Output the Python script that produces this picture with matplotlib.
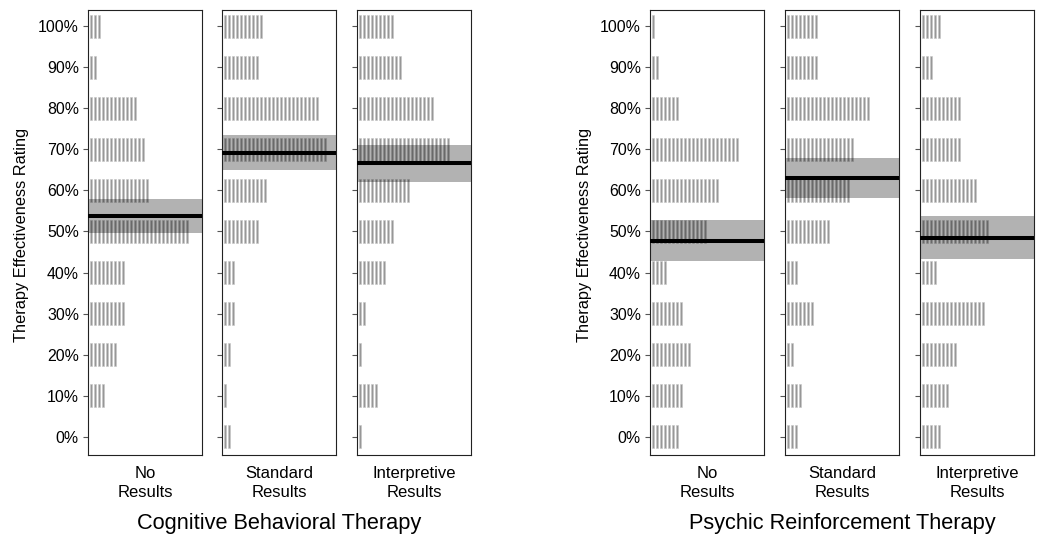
import numpy as np
import matplotlib
matplotlib.use("Agg")
import matplotlib.pyplot as plt

plt.rcParams["font.family"] = ["Liberation Sans", "DejaVu Sans"]

# Rating levels (percent) and number of responses at each level, 0% .. 100%
levels = [0, 10, 20, 30, 40, 50, 60, 70, 80, 90, 100]
tick_labels = [f"{v}%" for v in levels]

cbt_no_results = [0, 4, 7, 9, 9, 25, 15, 14, 12, 2, 3]
cbt_standard = [2, 1, 2, 3, 3, 9, 11, 26, 24, 9, 10]
cbt_interpretive = [1, 5, 1, 2, 7, 9, 13, 23, 19, 11, 9]

prt_no_results = [7, 8, 10, 8, 4, 14, 17, 22, 7, 2, 1]
prt_standard = [3, 4, 2, 7, 3, 11, 16, 17, 21, 8, 8]
prt_interpretive = [5, 7, 9, 16, 4, 17, 14, 10, 10, 3, 5]

conditions = ["No\nResults", "Standard\nResults", "Interpretive\nResults"]
therapies = ["Cognitive Behavioral Therapy", "Psychic Reinforcement Therapy"]
group_counts = [
    [cbt_no_results, cbt_standard, cbt_interpretive],
    [prt_no_results, prt_standard, prt_interpretive],
]

W, H = 1042, 537
fig = plt.figure(figsize=(W / 100, H / 100), dpi=100)

panel_lefts = [[88, 222, 357], [650, 785, 920]]
panel_w = 114
top_px, bottom_px = 10, 455
ylabel_x = [22, 585]


def fx(px):
    return px / W


def fy(py):
    return 1 - py / H


for g, (therapy, counts_list) in enumerate(zip(therapies, group_counts)):
    for c, (cond, counts) in enumerate(zip(conditions, counts_list)):
        left = panel_lefts[g][c]
        ax = fig.add_axes([fx(left), fy(bottom_px), panel_w / W,
                           (bottom_px - top_px) / H])
        # one small vertical tick per response, stacked along each level
        for lvl, n in zip(levels, counts):
            if n == 0:
                continue
            xs = np.arange(n)
            ax.bar(xs, 5.6, bottom=lvl - 2.8, width=0.58,
                   color="#979797", edgecolor="#c6c6c6", linewidth=0.4,
                   zorder=1)
        # mean with 95% confidence band
        vals = np.repeat(levels, counts).astype(float)
        mean = vals.mean()
        se = vals.std() / np.sqrt(len(vals))
        ax.axhspan(mean - 1.96 * se, mean + 1.96 * se, color="black",
                   alpha=0.3, lw=0, zorder=2)
        ax.axhline(mean, color="black", lw=2.9, zorder=3)

        ax.set_xlim(-0.8, 27.7)
        ax.set_ylim(-4.4, 103.9)
        ax.set_xticks([])
        ax.set_yticks(levels)
        if c == 0:
            ax.set_yticklabels(tick_labels, fontsize=11.4)
        else:
            ax.set_yticklabels([])
        ax.tick_params(axis="y", length=3.5, width=0.8, color="#555555",
                       pad=3)
        for s in ax.spines.values():
            s.set_linewidth(0.8)
            s.set_color("#222222")

        fig.text(fx(left + panel_w / 2), fy(466), cond, ha="center",
                 va="top", fontsize=12, linespacing=1.3)

    fig.text(fx(ylabel_x[g]), fy((top_px + bottom_px) / 2 + 2),
             "Therapy Effectiveness Rating", rotation=90, ha="center",
             va="center", fontsize=11.8)

    g_left = panel_lefts[g][0]
    g_right = panel_lefts[g][-1] + panel_w
    fig.text(fx((g_left + g_right) / 2), fy(523), therapy, ha="center",
             va="center", fontsize=15.7)

fig.savefig("out.png", dpi=100)
